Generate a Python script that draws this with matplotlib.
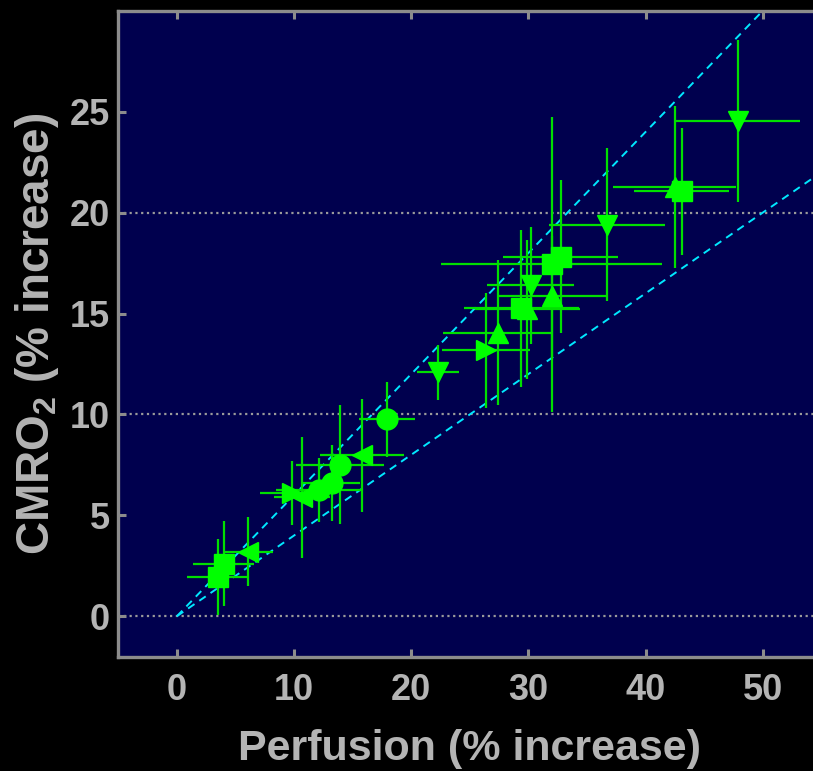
import matplotlib
matplotlib.use("Agg")
import matplotlib.pyplot as plt
import numpy as np

# ---- data ----
markers = ['s', 's', '<', '>', '<', 'o', 'o', 'o', '<', 'o', 'v', '>', '^', 's', '^', 'v',
           '^', 's', 's', 'v', '^', 's', 'v']
perfusion = [3.5, 4.0, 6.1, 9.8, 10.7, 12.1, 13.2, 13.95, 15.8, 17.93, 22.3, 26.4, 27.4, 29.4,
             29.9, 30.2, 32.0, 31.97, 32.74, 36.7, 42.5, 43.07, 47.9]
cmro2 = [1.95, 2.6, 3.2, 6.1, 5.9, 6.25, 6.6, 7.5, 7.97, 9.75, 12.08, 13.18, 14.05, 15.25,
         15.2, 16.4, 15.85, 17.44, 17.82, 19.4, 21.26, 21.06, 24.55]
perf_err = [2.6, 2.6, 2.1, 2.7, 2.4, 3.6, 2.4, 3.75, 3.6, 2.4, 1.8, 3.75, 4.7, 4.9,
            4.5, 3.7, 4.7, 9.4, 4.9, 4.95, 5.25, 4.05, 5.27]
cmro2_err = [1.9, 2.1, 1.7, 1.6, 3.0, 1.6, 1.9, 2.95, 2.8, 1.86, 1.37, 2.85, 3.6, 3.87,
             3.45, 2.9, 3.0, 7.3, 3.8, 3.8, 4.0, 3.15, 4.0]
slopes = [0.6, 0.4]
xticks = [0, 10, 20, 30, 40, 50]
yticks = [0, 5, 10, 15, 20, 25]
grid_y = [0, 10, 20]

plt.rcParams['font.family'] = ['Liberation Sans', 'DejaVu Sans']
plt.rcParams['font.weight'] = 'bold'
plt.rcParams['mathtext.fontset'] = 'custom'
plt.rcParams['mathtext.rm'] = 'Liberation Sans:bold'
plt.rcParams['mathtext.default'] = 'rm'

fig = plt.figure(figsize=(8.13, 7.71), dpi=100, facecolor='black')
ax = fig.add_axes([0.1455, 0.1484, 0.8648, 0.8376])
ax.set_facecolor('#00004e')

gray = '#8c8c8c'
for y in grid_y:
    ax.axhline(y, color='#9a9a9a', lw=1.6, ls=(0, (1, 1.6)), zorder=1)

xl = np.array([0, 55])
for s in slopes:
    ax.plot(xl, s * xl, color='#00e8ff', lw=1.4, ls=(0, (4, 3)), zorder=2)

for m, x, y, xe, ye in zip(markers, perfusion, cmro2, perf_err, cmro2_err):
    ax.errorbar(x, y, xerr=xe, yerr=ye, fmt=m, color='#00ee00', ecolor='#00e000',
                elinewidth=1.6, capsize=0, markersize=15, markerfacecolor='#00ff00',
                markeredgecolor='#00ff00', markeredgewidth=1, zorder=3)

ax.set_xlim(-5, 55)
ax.set_ylim(-2, 30)
ax.set_xticks(xticks)
ax.set_yticks(yticks)
ax.tick_params(direction='in', length=6, width=2.2, color=gray, top=True, right=True,
               labelcolor='#b4b4b4', labelsize=26)
ax.tick_params(axis='x', pad=12)
ax.tick_params(axis='y', pad=6)
for sp in ax.spines.values():
    sp.set_color(gray)
    sp.set_linewidth(2.4)

ax.set_xlabel('Perfusion (% increase)', color='#b4b4b4', fontsize=31, fontweight='bold', labelpad=15)
ax.set_ylabel('CMRO$_2$ (% increase)', color='#b4b4b4', fontsize=33, fontweight='bold', labelpad=6)

fig.savefig('out.png', dpi=100, facecolor='black')
